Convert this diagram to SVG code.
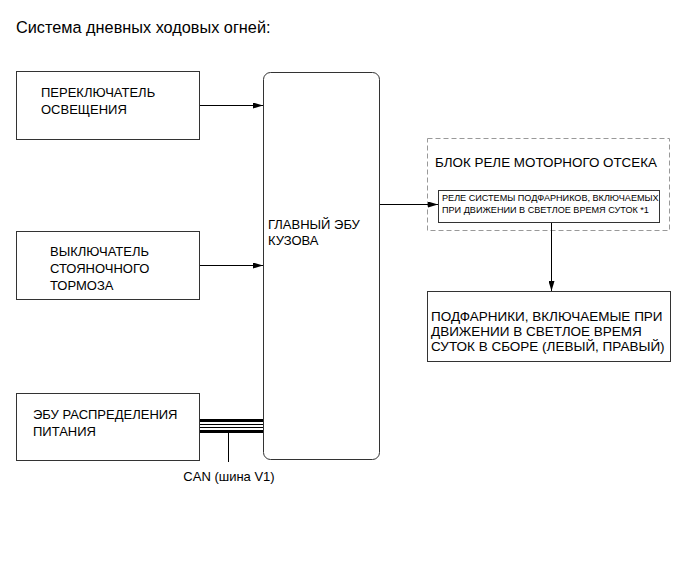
<svg xmlns="http://www.w3.org/2000/svg" width="690" height="562" viewBox="0 0 690 562">
<defs>
<style>
text{font-family:"Liberation Sans",Arial,sans-serif;fill:#000}
.box{fill:#fff;stroke:#333;stroke-width:1}
.t{font-size:13px}
.s{font-size:9.1px}
.ln{stroke:#000;stroke-width:1;fill:none}
</style>
<marker id="ah" viewBox="0 0 10 6" refX="10" refY="3" markerWidth="10" markerHeight="6" markerUnits="userSpaceOnUse" orient="auto">
<path d="M0,0 L10,3 L0,6 Z" fill="#000"/>
</marker>
</defs>
<rect width="690" height="562" fill="#fff"/>
<text x="16" y="33" style="font-size:16.3px">Система дневных ходовых огней:</text>

<g id="n1">
<rect class="box" x="16.5" y="71.5" width="183" height="68"/>
<text class="t" x="41" y="97">ПЕРЕКЛЮЧАТЕЛЬ</text>
<text class="t" x="41" y="114">ОСВЕЩЕНИЯ</text>
</g>
<g id="n2">
<rect class="box" x="16.5" y="231.5" width="183" height="68"/>
<text class="t" x="50" y="256">ВЫКЛЮЧАТЕЛЬ</text>
<text class="t" x="50" y="273">СТОЯНОЧНОГО</text>
<text class="t" x="50" y="290">ТОРМОЗА</text>
</g>
<g id="n3">
<rect class="box" x="16.5" y="393.5" width="183" height="67"/>
<text class="t" x="33" y="419">ЭБУ РАСПРЕДЕЛЕНИЯ</text>
<text class="t" x="33" y="436">ПИТАНИЯ</text>
</g>
<g id="main">
<rect class="box" x="263.5" y="72.5" width="116" height="387" rx="7"/>
<text class="t" x="268" y="229">ГЛАВНЫЙ ЭБУ</text>
<text class="t" x="268" y="245">КУЗОВА</text>
</g>
<g id="relayblock">
<rect x="427.5" y="138.5" width="242" height="92" fill="none" stroke="#999" stroke-dasharray="5,3"/>
<text x="435" y="167" style="font-size:13.4px">БЛОК РЕЛЕ МОТОРНОГО ОТСЕКА</text>
</g>
<g id="relay">
<rect class="box" x="438.5" y="190.5" width="221" height="32"/>
<text class="s" x="442" y="201">РЕЛЕ СИСТЕМЫ ПОДФАРНИКОВ, ВКЛЮЧАЕМЫХ</text>
<text class="s" x="442" y="213">ПРИ ДВИЖЕНИИ В СВЕТЛОЕ ВРЕМЯ СУТОК *1</text>
</g>
<g id="lamps">
<rect class="box" x="427.5" y="291.5" width="243" height="70"/>
<text x="431" y="321" style="font-size:13.5px">ПОДФАРНИКИ, ВКЛЮЧАЕМЫЕ ПРИ</text>
<text x="431" y="336" style="font-size:13.5px">ДВИЖЕНИИ В СВЕТЛОЕ ВРЕМЯ</text>
<text x="431" y="351" style="font-size:13.5px">СУТОК В СБОРЕ (ЛЕВЫЙ, ПРАВЫЙ)</text>
</g>

<g id="connectors">
<line class="ln" x1="200" y1="105.5" x2="263" y2="105.5" marker-end="url(#ah)"/>
<line class="ln" x1="200" y1="265.5" x2="263" y2="265.5" marker-end="url(#ah)" stroke="#555"/>
<line class="ln" x1="380" y1="204.5" x2="438" y2="204.5" marker-end="url(#ah)"/>
<line class="ln" x1="551.5" y1="223" x2="551.5" y2="291" marker-end="url(#ah)"/>
<line x1="200" y1="420.5" x2="263" y2="420.5" stroke="#000" stroke-width="3"/>
<line x1="200" y1="424.5" x2="263" y2="424.5" stroke="#000" stroke-width="1"/>
<line x1="200" y1="427.5" x2="263" y2="427.5" stroke="#000" stroke-width="1"/>
<line x1="200" y1="431.5" x2="263" y2="431.5" stroke="#000" stroke-width="3"/>
<line class="ln" x1="228.5" y1="433" x2="228.5" y2="462"/>
<text x="229" y="481" text-anchor="middle" style="font-size:13px">CAN (шина V1)</text>
</g>
</svg>
